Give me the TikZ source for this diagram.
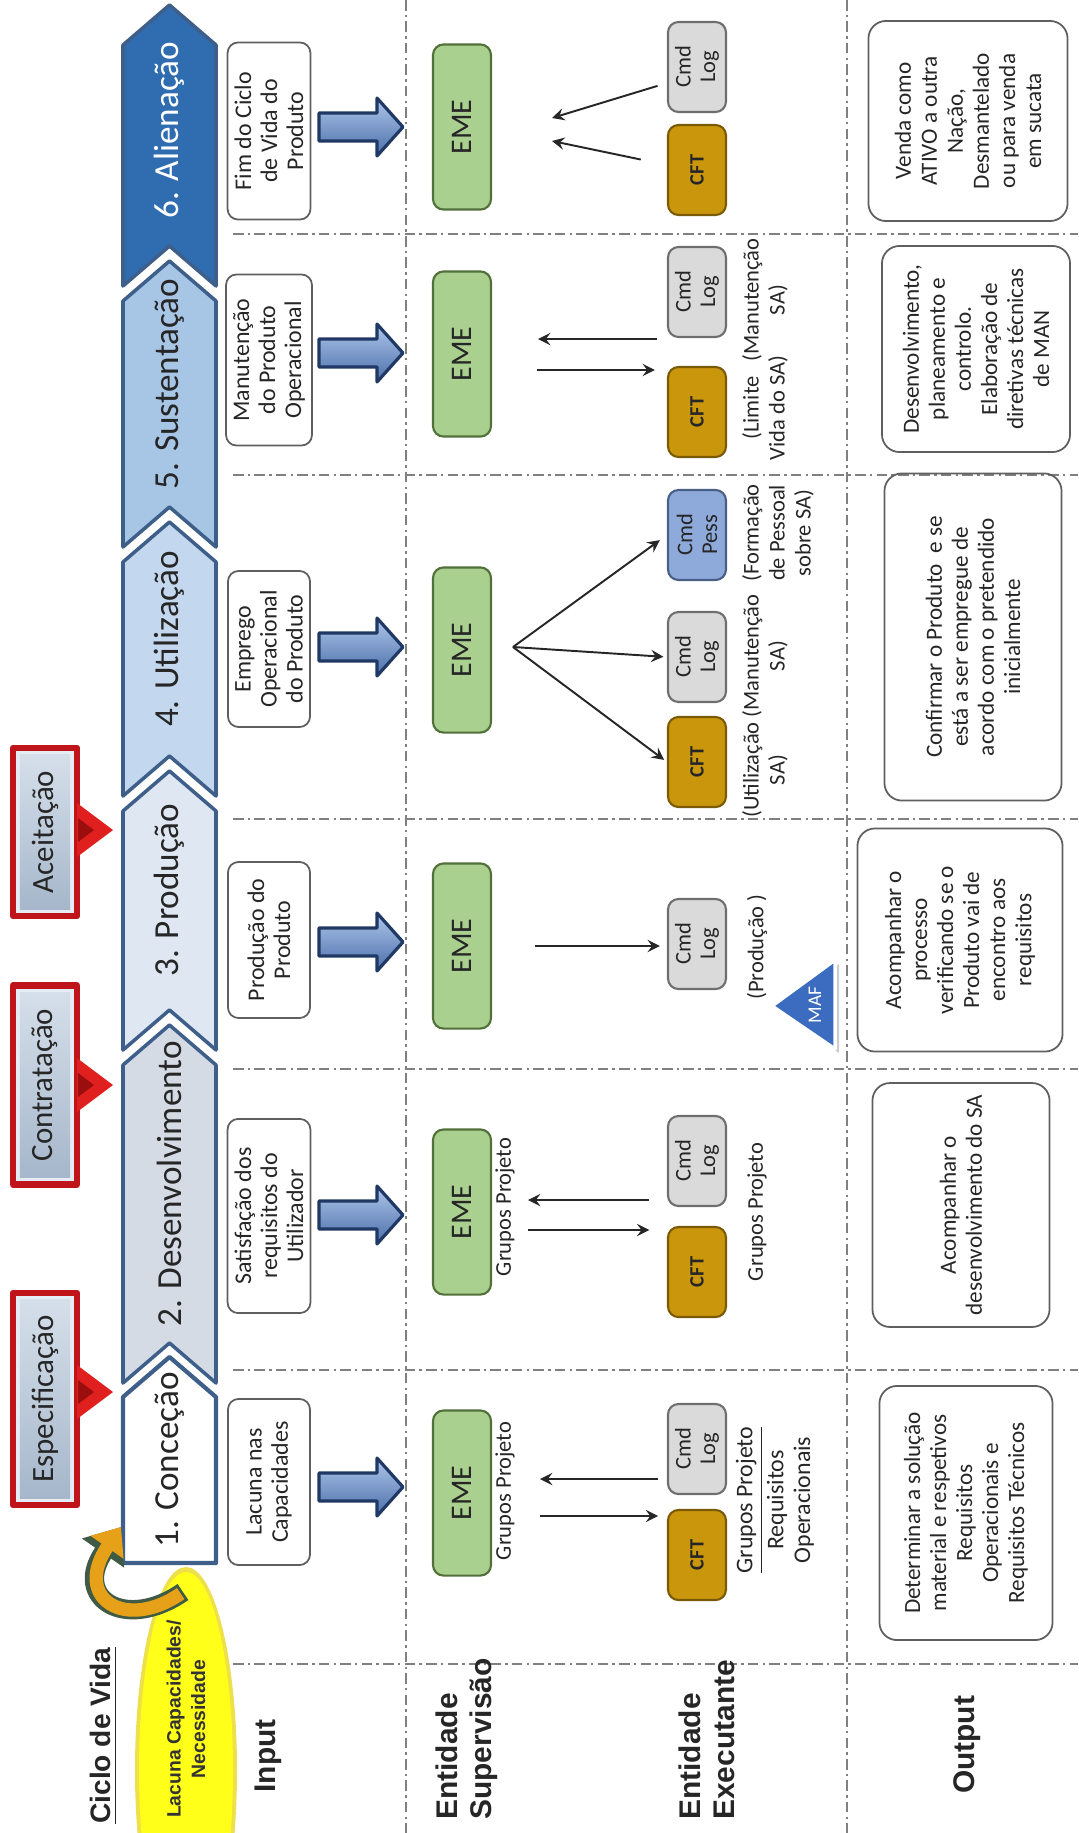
\documentclass[tikz,border=0pt]{standalone}
\usepackage{fontspec}
\setmainfont{Carlito}
\newfontfamily\arialfont{Liberation Sans}
\usetikzlibrary{arrows.meta}
\definecolor{txtgray}{HTML}{262626}
\definecolor{edgeblue}{HTML}{3E5F8A}
\definecolor{phtwo}{HTML}{D5DBE5}
\definecolor{phthree}{HTML}{DEE7F2}
\definecolor{phfour}{HTML}{C3D8EE}
\definecolor{phfive}{HTML}{A7C6E6}
\definecolor{phsix}{HTML}{2F6CB0}
\definecolor{boxred}{HTML}{C0141B}
\definecolor{bevelhi}{HTML}{E6ECF3}
\definecolor{facetop}{HTML}{D5DFEA}
\definecolor{facebot}{HTML}{A6B7CB}
\definecolor{ptred}{HTML}{E0201E}
\definecolor{ptdark}{HTML}{9A0E0E}
\definecolor{linegray}{HTML}{5F5F5F}
\definecolor{sepgray}{HTML}{808080}
\definecolor{emegreen}{HTML}{A9D08E}
\definecolor{emeedge}{HTML}{52703A}
\definecolor{cftgold}{HTML}{C9960C}
\definecolor{cftedge}{HTML}{7A5A05}
\definecolor{loggray}{HTML}{DADADA}
\definecolor{logedge}{HTML}{6E6E6E}
\definecolor{pessblue}{HTML}{8EAADB}
\definecolor{pessedge}{HTML}{4A5F85}
\definecolor{navy}{HTML}{1F3864}
\definecolor{arrowlight}{HTML}{ADC6EA}
\definecolor{arrowdark}{HTML}{4C6EAA}
\definecolor{lemon}{HTML}{FFFF1A}
\definecolor{lemonedge}{HTML}{EDE04A}
\definecolor{amber}{HTML}{E6A118}
\definecolor{olivedark}{HTML}{3F5B45}
\definecolor{mafblue}{HTML}{3B6CC0}
\begin{document}
\begin{tikzpicture}[x=0.01cm,y=-0.01cm,>=stealth,line join=round,
    every node/.append style={rotate=90,text=txtgray},
    phase/.style={font=\fontsize{10}{12}\selectfont},
    topbox/.style={draw=boxred,line width=1.8pt,fill=bevelhi,minimum height=0.64cm},
    topface/.style={top color=facetop,bottom color=facebot,minimum height=0.5cm,font=\fontsize{8.8}{10}\selectfont},
    inbox/.style={draw=linegray,line width=0.5pt,rounded corners=3pt,fill=white,minimum height=0.82cm,inner sep=2pt,align=center,font=\fontsize{6.8}{7.4}\selectfont},
    emebox/.style={draw=emeedge,line width=0.6pt,fill=emegreen,rounded corners=3pt,minimum width=1.65cm,minimum height=0.58cm,font=\fontsize{8.5}{10}\selectfont},
    cftbox/.style={draw=cftedge,line width=0.6pt,fill=cftgold,rounded corners=3pt,minimum width=0.9cm,minimum height=0.58cm,inner sep=1pt,font=\bfseries\fontsize{5.8}{7}\selectfont},
    logbox/.style={draw=logedge,line width=0.6pt,fill=loggray,rounded corners=3pt,minimum width=0.9cm,minimum height=0.58cm,inner sep=1pt,align=center,font=\fontsize{6.4}{7}\selectfont},
    pessbox/.style={logbox,draw=pessedge,fill=pessblue},
    outbox/.style={draw=linegray,line width=0.5pt,rounded corners=5pt,align=center,font=\fontsize{6.6}{7.4}\selectfont},
    note/.style={align=center,inner sep=1pt,font=\fontsize{6.4}{7.4}\selectfont},
    rowlabel/.style={align=left,font=\arialfont\bfseries\fontsize{8.5}{9.8}\selectfont,text=black!85},
    sep/.style={draw=sepgray,line width=0.5pt,dash pattern=on 3pt off 1.2pt on 0.7pt off 1.2pt},
    flow/.style={->,line width=0.55pt,draw=txtgray},
    ptouter/.style={insert path={(0,-27) -- (36,0) -- (0,27) -- cycle}},
    ptinner/.style={insert path={(1,-12) -- (17,0) -- (1,12) -- cycle}},
    blockarrow/.style={draw=navy,line width=0.9pt,top color=arrowlight,bottom color=arrowdark},
    blockpath/.style={insert path={(-42,-14) -- (16,-14) -- (16,-29) -- (42,0) -- (16,29) -- (16,14) -- (-42,14) -- cycle}}]
\useasboundingbox (0,0) rectangle (1078,1833);
\clip (0,0) rectangle (1078,1833);

% separators
\draw[sep] (233,234) -- (1078,234);
\draw[sep] (233,475) -- (1078,475);
\draw[sep] (233,819) -- (1078,819);
\draw[sep] (233,1069) -- (1078,1069);
\draw[sep] (233,1370) -- (1078,1370);
\draw[sep] (233,1664) -- (1078,1664);
\draw[sep] (406,0) -- (406,1833);
\draw[sep] (847,0) -- (847,1833);

% need and phases
\fill[lemonedge] (186,1770) ellipse [x radius=51, y radius=203];
\fill[lemon] (186,1770) ellipse [x radius=47, y radius=198];
\node[font=\arialfont\bfseries\fontsize{5.5}{7}\selectfont,align=center,text=black!80] (need) at (186,1719) {Lacuna Capacidades/\\Necessidade};
\node[rowlabel,anchor=west,font=\arialfont\bfseries\fontsize{8}{9}\selectfont] (ciclo) at (104,1836) {\underline{Ciclo de Vida}};

\filldraw[draw=edgeblue,line width=1pt,fill=phsix] (123,286) -- (123,45) -- (169.5,5) -- (216,45) -- (216,286) -- (169.5,246) -- cycle;
\filldraw[draw=edgeblue,line width=1pt,fill=phfive] (123,547) -- (123,301) -- (169.5,261) -- (216,301) -- (216,547) -- (169.5,507) -- cycle;
\filldraw[draw=edgeblue,line width=1pt,fill=phfour] (123,796) -- (123,562) -- (169.5,522) -- (216,562) -- (216,796) -- (169.5,756) -- cycle;
\filldraw[draw=edgeblue,line width=1pt,fill=phthree] (123,1050) -- (123,811) -- (169.5,771) -- (216,811) -- (216,1050) -- (169.5,1010) -- cycle;
\filldraw[draw=edgeblue,line width=1pt,fill=phtwo] (123,1383) -- (123,1065) -- (169.5,1025) -- (216,1065) -- (216,1383) -- (169.5,1343) -- cycle;
\filldraw[draw=edgeblue,line width=1.2pt,fill=white] (123,1563) -- (123,1397) -- (169.5,1357) -- (216,1397) -- (216,1563) -- cycle;
\node[phase,text=white] (ph6) at (169.5,130) {6. Alienação};
\node[phase] (ph5) at (169.5,384) {5. Sustentação};
\node[phase] (ph4) at (169.5,639) {4. Utilização};
\node[phase] (ph3) at (169.5,890) {3. Produção};
\node[phase] (ph2) at (169.5,1184) {2. Desenvolvimento};
\node[phase] (ph1) at (169.5,1460) {1. Conceção};

\coordinate (tailA) at (183,1592);
\coordinate (headA) at (121,1527);
\draw[line width=5.5pt,draw=olivedark,-{Triangle[width=14pt,length=9pt]}] (tailA) .. controls (125,1632) and (72,1598) .. (headA);
\draw[line width=3.8pt,draw=amber,shorten <=0.8pt,-{Triangle[width=11pt,length=7pt]}] (tailA) .. controls (125,1632) and (72,1598) .. (headA);

% milestones
\node[topbox,minimum width=2.12cm] (espec) at (45,1399) {};
\node[topface,minimum width=1.98cm] (especT) at (espec) {Especificação};
\node[topbox,minimum width=1.99cm] (contr) at (45,1085) {};
\node[topface,minimum width=1.85cm] (contrT) at (contr) {Contratação};
\node[topbox,minimum width=1.68cm] (aceit) at (45,832) {};
\node[topface,minimum width=1.54cm] (aceitT) at (aceit) {Aceitação};
\fill[ptred,shift={(77,1392)},ptouter];
\fill[ptdark,shift={(77,1392)},ptinner];
\fill[ptred,shift={(77,1085)},ptouter];
\fill[ptdark,shift={(77,1085)},ptinner];
\fill[ptred,shift={(77,830)},ptouter];
\fill[ptdark,shift={(77,830)},ptinner];

% labels
\node[rowlabel] (lblin) at (268,1756) {Input};
\node[rowlabel,anchor=west] (lblsup) at (467,1832) {Entidade\\Supervisão};
\node[rowlabel,anchor=west] (lblexe) at (707,1832) {Entidade\\Executante};
\node[rowlabel] (lblout) at (967,1745) {Output};

% input
\node[inbox,minimum width=1.66cm] (in1) at (269,1482) {Lacuna nas\\Capacidades};
\node[inbox,minimum width=1.94cm] (in2) at (269,1216) {Satisfação dos\\requisitos do\\Utilizador};
\node[inbox,minimum width=1.56cm] (in3) at (269,940) {Produção do\\Produto};
\node[inbox,minimum width=1.56cm] (in4) at (269,649) {Emprego\\Operacional\\do Produto};
\node[inbox,minimum width=1.71cm] (in5) at (269,360) {Manutenção\\do Produto\\Operacional};
\node[inbox,minimum width=1.77cm] (in6) at (269,131) {Fim do Ciclo\\de Vida do\\Produto};
\draw[blockarrow,shift={(361,1487)},blockpath];
\draw[blockarrow,shift={(361,1215)},blockpath];
\draw[blockarrow,shift={(361,942)},blockpath];
\draw[blockarrow,shift={(361,647)},blockpath];
\draw[blockarrow,shift={(361,353)},blockpath];
\draw[blockarrow,shift={(361,127)},blockpath];

% supervision
\node[emebox] (eme1) at (462,1493) {EME};
\node[emebox] (eme2) at (462,1212) {EME};
\node[emebox] (eme3) at (462,946) {EME};
\node[emebox] (eme4) at (462,650) {EME};
\node[emebox] (eme5) at (462,354) {EME};
\node[emebox] (eme6) at (462,127) {EME};
\node[note] (gp1) at (505,1491) {Grupos Projeto};
\node[note] (gp2) at (505,1207) {Grupos Projeto};

% execution
\node[cftbox] (cft1) at (697,1555) {CFT};
\node[logbox] (log1) at (697,1449) {Cmd\\Log};
\node[cftbox] (cft2) at (697,1272) {CFT};
\node[logbox] (log2) at (697,1161) {Cmd\\Log};
\node[logbox] (log3) at (697,944) {Cmd\\Log};
\node[cftbox] (cft4) at (697,762) {CFT};
\node[logbox] (log4) at (697,657) {Cmd\\Log};
\node[pessbox] (pess4) at (697,535) {Cmd\\Pess};
\node[cftbox] (cft5) at (697,412) {CFT};
\node[logbox] (log5) at (697,292) {Cmd\\Log};
\node[cftbox] (cft6) at (697,170) {CFT};
\node[logbox] (log6) at (697,67) {Cmd\\Log};

\node[note,font=\fontsize{6.8}{7.6}\selectfont] (req1) at (775,1500) {\underline{Grupos Projeto}\\Requisitos\\Operacionais};
\node[note] (gp2x) at (757,1212) {Grupos Projeto};
\node[note] (nprod) at (757,947) {(Produção )};
\node[note] (nutil) at (765,770) {(Utilização\\SA)};
\node[note] (nman4) at (765,656) {(Manutenção\\SA)};
\node[note] (nform) at (778,533) {(Formação\\de Pessoal\\sobre SA)};
\node[note] (nlim) at (765,408) {(Limite\\Vida do SA)};
\node[note] (nman5) at (765,300) {(Manutenção\\SA)};

\filldraw[fill=black!20,draw=none] (776,1010) -- (839,964) -- (839,1053) -- cycle;
\filldraw[fill=mafblue,draw=white,line width=1pt] (772,1006) -- (835,960) -- (835,1049) -- cycle;
\node[font=\fontsize{5.5}{6}\selectfont,text=white] (maf) at (815,1005) {MAF};

% links
\coordinate (u1) at (540,1479);
\coordinate (d1) at (540,1516);
\draw[flow,shorten <=2.5pt] (log1.north |- u1) -- (u1);
\draw[flow,shorten >=2.5pt] (d1) -- (cft1.north |- d1);
\coordinate (u2) at (528,1200);
\coordinate (d2) at (528,1230);
\draw[flow,shorten <=5pt] (log2.north |- u2) -- (u2);
\draw[flow,shorten >=5pt] (d2) -- (cft2.north |- d2);
\coordinate (d3) at (535,946);
\draw[flow,shorten >=2pt] (d3) -- (log3.north |- d3);
\coordinate (f4) at (513,647);
\draw[flow,shorten >=1pt] (f4) -- (cft4.north);
\draw[flow,shorten >=1pt] (f4) -- (log4.north);
\draw[flow,shorten >=2.5pt] (f4) -- (pess4.north);
\coordinate (u5) at (538,339);
\coordinate (d5) at (537,370);
\draw[flow,shorten <=2.8pt] (log5.north |- u5) -- (u5);
\draw[flow,shorten >=3.4pt] (d5) -- (cft5.north |- d5);
\coordinate (t6a) at (552,118);
\coordinate (t6b) at (552,141);
\draw[flow,shorten <=2.8pt] ([yshift=-0.16cm]log6.north) -- (t6a);
\draw[flow,shorten <=7.6pt] ([yshift=0.05cm]cft6.north) -- (t6b);

% output
\node[outbox,minimum width=2.54cm,minimum height=1.73cm] (out1) at (966,1513) {Determinar a solução\\material e respetivos\\Requisitos\\Operacionais e\\Requisitos Técnicos};
\node[outbox,minimum width=2.32cm,minimum height=1.77cm] (out2) at (961,1205) {Acompanhar o\\desenvolvimento do SA};
\node[outbox,minimum width=2.23cm,minimum height=2.05cm] (out3) at (960,940) {Acompanhar o\\processo\\verificando se o\\Produto vai de\\encontro aos\\requisitos};
\node[outbox,minimum width=3.27cm,minimum height=1.77cm] (out4) at (973,637) {Confirmar o Produto\ \ e se\\está a ser empregue de\\acordo com o pretendido\\inicialmente};
\node[outbox,minimum width=2.06cm,minimum height=1.88cm] (out5) at (976,349) {Desenvolvimento,\\planeamento e\\controlo.\\Elaboração de\\diretivas técnicas\\de MAN};
\node[outbox,minimum width=2.00cm,minimum height=1.99cm] (out6) at (968,121) {Venda como\\ATIVO a outra\\Nação,\\Desmantelado\\ou para venda\\em sucata};
\end{tikzpicture}
\end{document}
